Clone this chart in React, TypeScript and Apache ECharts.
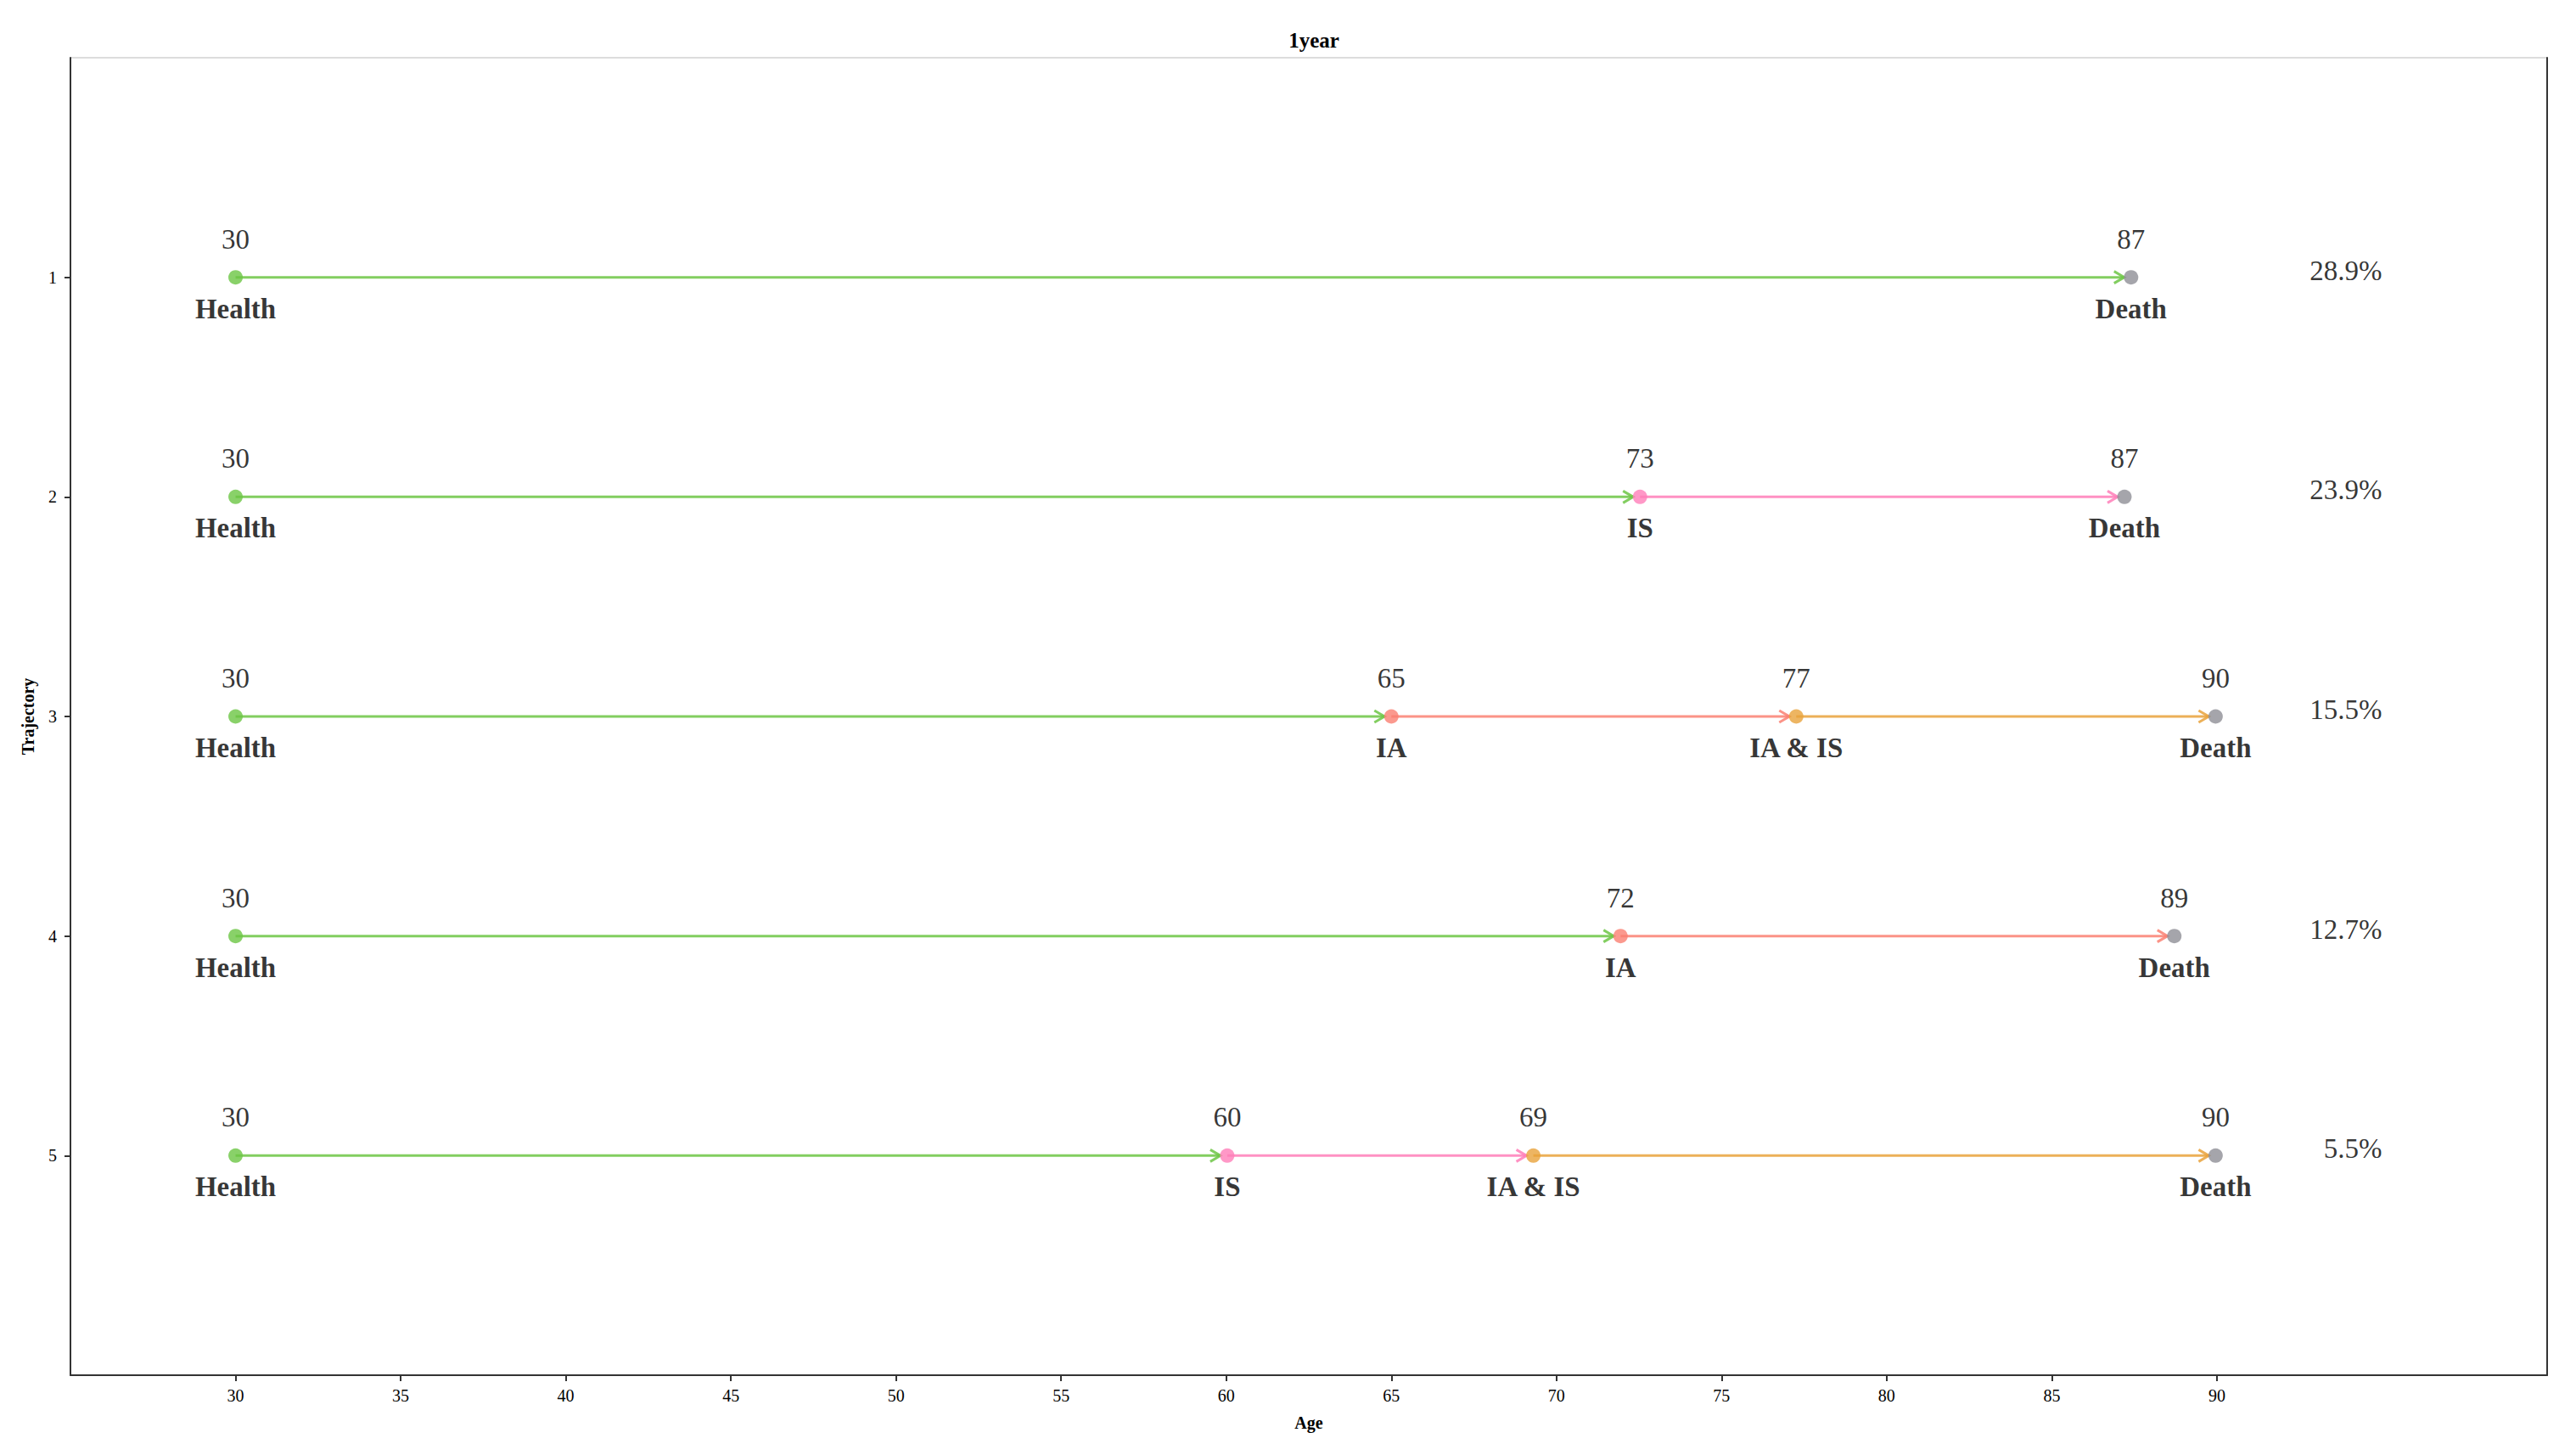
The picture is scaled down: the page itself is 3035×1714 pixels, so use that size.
import React, { useEffect, useRef } from "react";
import * as echarts from "echarts";

const FONT = "'Liberation Serif', 'DejaVu Serif', serif";

const trajectories = [1, 2, 3, 4, 5];
const trajStates: string[][] = [
  ["Health", "Death"],
  ["Health", "IS", "Death"],
  ["Health", "IA", "IA & IS", "Death"],
  ["Health", "IA", "Death"],
  ["Health", "IS", "IA & IS", "Death"],
];
const trajAges: number[][] = [
  [30, 87.4],
  [30, 72.53, 87.2],
  [30, 65.0, 77.26, 89.96],
  [30, 71.94, 88.71],
  [30, 60.03, 69.3, 89.96],
];
const percents = ["28.9%", "23.9%", "15.5%", "12.7%", "5.5%"];
const percentX = 95;
const xTicks = [30, 35, 40, 45, 50, 55, 60, 65, 70, 75, 80, 85, 90];
const yTicks = [1, 2, 3, 4, 5];

const stateColors: Record<string, string> = {
  Health: "#6CC644",
  IS: "#FF7EB9",
  IA: "#FA8072",
  "IA & IS": "#E9A23B",
  Death: "#8E8E96",
};

export default function App() {
  const ref = useRef<HTMLDivElement>(null);
  useEffect(() => {
    document.body.style.margin = "0";
    document.body.style.overflow = "hidden";
    if (!ref.current) return;
    const chart = echarts.init(ref.current, null, { renderer: "svg" });

    const points: any[] = [];
    const segments: any[] = [];
    trajectories.forEach((t, i) => {
      const st = trajStates[i];
      const ag = trajAges[i];
      st.forEach((s, j) => {
        points.push({ value: [ag[j], t, s], itemStyle: { color: stateColors[s] } });
        if (j < st.length - 1) {
          segments.push({ value: [ag[j], ag[j + 1], t, s] });
        }
      });
    });
    const pctData = trajectories.map((t, i) => ({ value: [percentX, t, percents[i]] }));

    const axisColor = "#333333";
    const option: any = {
      animation: false,
      title: {
        text: "1year",
        left: 1543,
        textAlign: "center",
        top: 30,
        textStyle: { fontFamily: FONT, fontSize: 25, fontWeight: "bold", color: "#000" },
      },
      grid: {
        left: 83,
        right: 34,
        top: 68,
        bottom: 94,
        show: true,
        borderColor: "#bbbbbb",
        borderWidth: 1,
      },
      xAxis: {
        type: "value",
        min: 25,
        max: 100,
        interval: 5,
        name: "Age",
        nameLocation: "middle",
        nameGap: 46,
        nameTextStyle: { fontFamily: FONT, fontSize: 20, fontWeight: "bold", color: "#000" },
        axisLine: { show: true, onZero: false, lineStyle: { color: axisColor, width: 2 } },
        axisTick: { show: true, length: 7, customValues: xTicks, lineStyle: { color: axisColor, width: 2 } },
        axisLabel: { customValues: xTicks, margin: 14, fontFamily: FONT, fontSize: 20, color: "#000" },
        splitLine: { show: false },
      },
      yAxis: [
        {
          type: "value",
          inverse: true,
          min: 0,
          max: 6,
          interval: 1,
          name: "Trajectory",
          nameLocation: "middle",
          nameGap: 40,
          nameRotate: 90,
          nameTextStyle: { fontFamily: FONT, fontSize: 20, fontWeight: "bold", color: "#000" },
          axisLine: { show: true, onZero: false, lineStyle: { color: axisColor, width: 2 } },
          axisTick: { show: true, length: 7, customValues: yTicks, lineStyle: { color: axisColor, width: 2 } },
          axisLabel: { customValues: yTicks, margin: 16, fontFamily: FONT, fontSize: 20, color: "#000" },
          splitLine: { show: false },
        },
        {
          type: "value",
          position: "right",
          inverse: true,
          min: 0,
          max: 6,
          axisLine: { show: true, onZero: false, lineStyle: { color: axisColor, width: 2 } },
          axisTick: { show: false },
          axisLabel: { show: false },
          splitLine: { show: false },
        },
      ],
      series: [
        {
          type: "custom",
          xAxisIndex: 0,
          yAxisIndex: 0,
          z: 2,
          silent: true,
          data: segments,
          renderItem: (params: any, api: any) => {
            const x1 = api.value(0);
            const x2 = api.value(1);
            const y = api.value(2);
            const s = segments[params.dataIndex].value[3];
            const color = stateColors[s];
            const p1 = api.coord([x1, y]);
            const p2 = api.coord([x2, y]);
            const tipX = p2[0] - 8;
            const style = { stroke: color, lineWidth: 3, opacity: 0.85, fill: "none" };
            return {
              type: "group",
              children: [
                { type: "line", shape: { x1: p1[0], y1: p1[1], x2: tipX, y2: p2[1] }, style },
                {
                  type: "polyline",
                  shape: { points: [[tipX - 12, p2[1] - 7], [tipX, p2[1]], [tipX - 12, p2[1] + 7]] },
                  style,
                },
              ],
            };
          },
        },
        {
          type: "scatter",
          z: 3,
          symbolSize: 17,
          data: points,
          label: {
            show: true,
            position: "inside",
            offset: [0, -45],
            formatter: (p: any) => String(Math.round(p.value[0])),
            fontFamily: FONT,
            fontSize: 33,
            color: "#000",
          },
        },
        {
          type: "scatter",
          z: 3,
          symbolSize: 1,
          itemStyle: { color: "rgba(0,0,0,0)" },
          data: points.map((p) => ({ value: p.value })),
          label: {
            show: true,
            position: "inside",
            offset: [0, 37],
            formatter: (p: any) => p.value[2],
            fontFamily: FONT,
            fontSize: 33,
            fontWeight: "bold",
            color: "#000",
          },
        },
        {
          type: "scatter",
          z: 3,
          symbolSize: 1,
          itemStyle: { color: "rgba(0,0,0,0)" },
          data: pctData,
          label: {
            show: true,
            position: "inside",
            align: "right",
            offset: [0, -8],
            formatter: (p: any) => p.value[2],
            fontFamily: FONT,
            fontSize: 33,
            color: "#000",
          },
        },
      ],
    };
    chart.setOption(option);
    return () => chart.dispose();
  }, []);
  return <div ref={ref} style={{ width: "100vw", height: "100vh" }} />;
}
